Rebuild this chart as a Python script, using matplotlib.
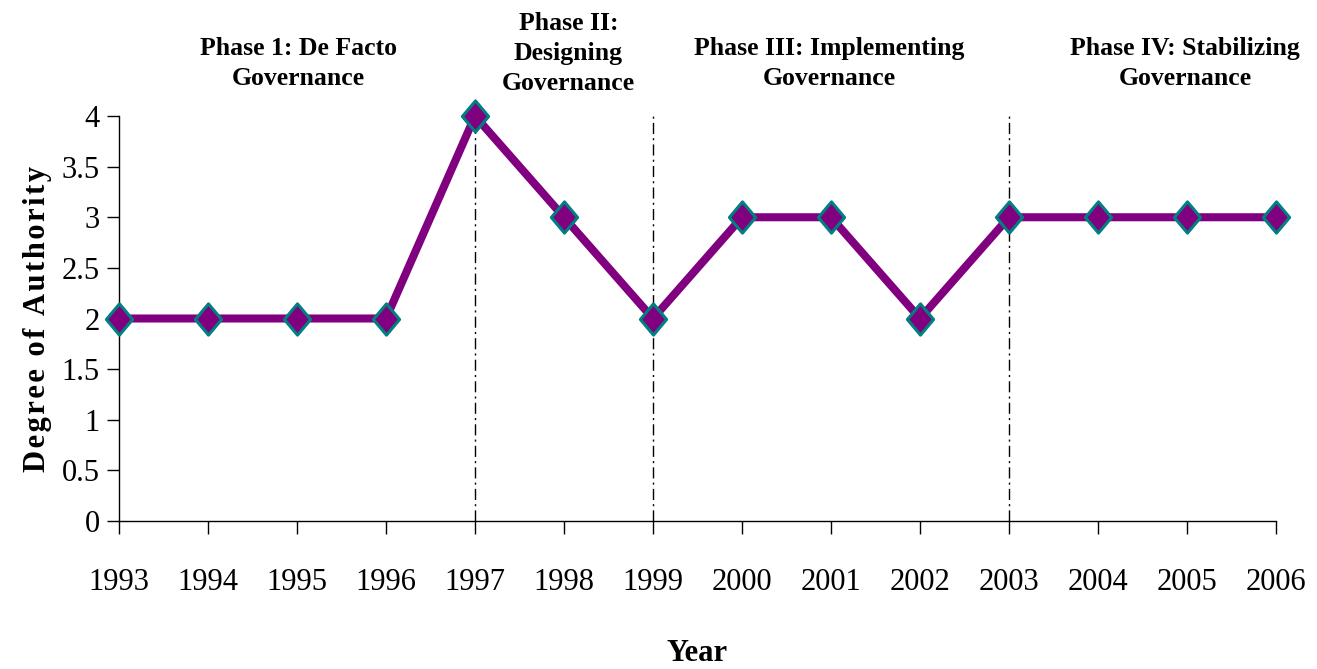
import matplotlib
matplotlib.use("Agg")
import matplotlib.pyplot as plt
from matplotlib.path import Path

years = [1993, 1994, 1995, 1996, 1997, 1998, 1999, 2000, 2001, 2002, 2003, 2004, 2005, 2006]
authority = [2, 2, 2, 2, 4, 3, 2, 3, 3, 2, 3, 3, 3, 3]
phase_bounds = [1997, 1999, 2003]
phase_labels = ["Phase 1: De Facto\nGovernance", "Phase II:\nDesigning\nGovernance",
                "Phase III: Implementing\nGovernance", "Phase IV: Stabilizing\nGovernance"]
phase_label_x = [1995.02, 1998.05, 2000.98, 2004.98]
yticks = [0, 0.5, 1, 1.5, 2, 2.5, 3, 3.5, 4]
ytick_labels = ["0", "0.5", "1", "1.5", "2", "2.5", "3", "3.5", "4"]

plt.rcParams['font.family'] = ['Liberation Serif', 'DejaVu Serif']

W, H = 1317, 669
fig = plt.figure(figsize=(W / 100, H / 100), dpi=100)
ax = fig.add_axes([119 / W, 1 - 521 / H, (1276 - 119) / W, (521 - 116) / H])

for b in phase_bounds:
    ax.plot([b, b], [0, 4], color='black', lw=1.0, ls='-.', dashes=(8, 3, 1.5, 3), zorder=1)

diamond = Path([(0, 1), (0.84, 0), (0, -1), (-0.84, 0), (0, 1)],
               [Path.MOVETO, Path.LINETO, Path.LINETO, Path.LINETO, Path.CLOSEPOLY])
ax.plot(years, authority, color='#800080', lw=5.8, marker=diamond, markersize=22.5,
        markerfacecolor='#800080', markeredgecolor='#008080', markeredgewidth=2.2,
        clip_on=False, zorder=3)

ax.set_xlim(1993, 2006)
ax.set_ylim(0, 4)
ax.set_xticks(years)
ax.set_xticklabels([str(y) for y in years])
ax.set_yticks(yticks)
ax.set_yticklabels(ytick_labels)
ax.tick_params(axis='both', labelsize=22, direction='out', length=9, width=1)
ax.tick_params(axis='x', pad=25)
ax.tick_params(axis='y', pad=5)
for s in ['top', 'right']:
    ax.spines[s].set_visible(False)
for s in ['left', 'bottom']:
    ax.spines[s].set_linewidth(1)

hair = "\u200a"
ax.set_ylabel(hair.join("Degree of Authority"), fontsize=22, fontweight='bold', labelpad=7)
ax.set_xlabel("Year", fontsize=22, fontweight='bold', labelpad=30)

tops = [37, 12, 37, 37]
for x, top, t in zip(phase_label_x, tops, phase_labels):
    ax.text(x, 0, t, transform=ax.get_xaxis_transform(), ha='center', va='top',
            fontsize=18.5, fontweight='bold', linespacing=1.4, clip_on=False)
    ax.texts[-1].set_y((H - top - (H - 521)) / (521 - 116))

fig.savefig("out.png", dpi=100)
